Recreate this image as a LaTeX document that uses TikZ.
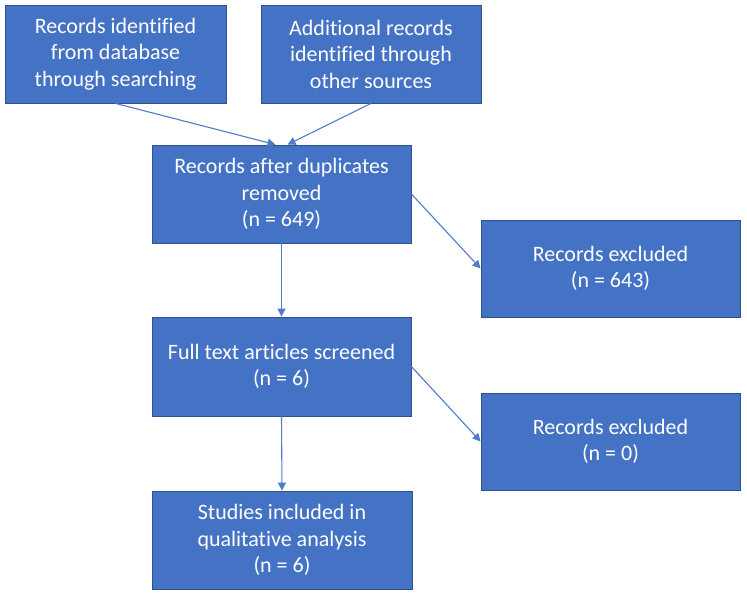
\documentclass[tikz,border=0pt]{standalone}
\usepackage{fontspec}
\setmainfont{Carlito}[Ligatures={NoCommon}]
\usetikzlibrary{arrows.meta}
\definecolor{boxblue}{HTML}{4472C4}
\definecolor{boxedge}{HTML}{2F528F}
\definecolor{arrowblue}{HTML}{4F7BC8}
\begin{document}
\begin{tikzpicture}[x=1pt,y=-1pt,
  flowbox/.style={rectangle, fill=boxblue, draw=boxedge, line width=0.8pt,
    text=white, align=center, inner sep=0pt,
    font=\fontsize{22pt}{26.5pt}\selectfont},
  flowarrow/.style={draw=arrowblue, line width=1.1pt,
    -{Triangle[length=8pt,width=8pt]}}]
\useasboundingbox (0,0) rectangle (747,596);
\node[flowbox, minimum width=221pt, minimum height=98pt] (b1) at (115.5,54)
  {Records identified\\from database\\through searching};
\node[flowbox, minimum width=220pt, minimum height=98pt] (b2) at (371,54)
  {Additional records\\identified through\\other sources};
\node[flowbox, minimum width=259pt, minimum height=98pt] (b3) at (281.5,194)
  {Records after duplicates\\removed\\(n = 649)};
\node[flowbox, minimum width=259pt, minimum height=97pt] (b4) at (610.5,268.5)
  {Records excluded\\(n = 643)};
\node[flowbox, minimum width=259pt, minimum height=99pt] (b5) at (281.5,366.5)
  {Full text articles screened\\(n = 6)};
\node[flowbox, minimum width=259pt, minimum height=97pt] (b6) at (610.5,441.5)
  {Records excluded\\(n = 0)};
\node[flowbox, minimum width=260pt, minimum height=98pt] (b7) at (282,540)
  {Studies included in\\qualitative analysis\\(n = 6)};
\draw[flowarrow] (b1.south) -- ([xshift=-6pt]b3.north);
\draw[flowarrow] (b2.south) -- ([xshift=6pt]b3.north);
\draw[flowarrow] (b3.south) -- (b5.north);
\draw[flowarrow] (b3.east) -- (b4.west);
\draw[flowarrow] (b5.south) -- (b7.north);
\draw[flowarrow] (b5.east) -- (b6.west);
\end{tikzpicture}
\end{document}
